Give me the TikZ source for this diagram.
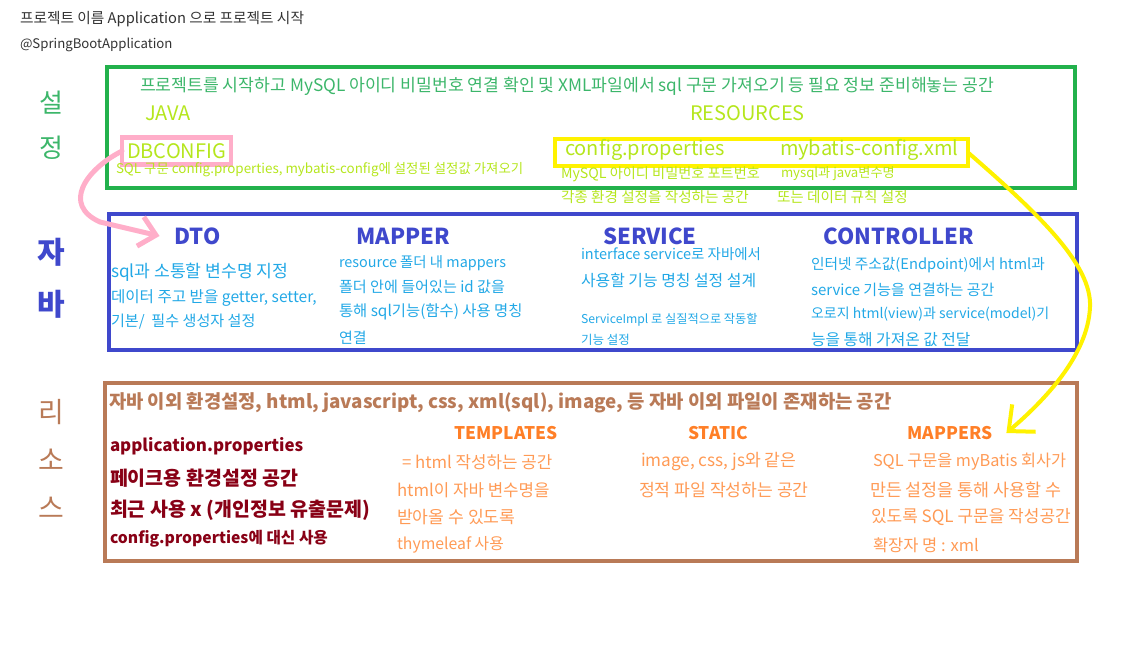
\documentclass[tikz,border=0pt]{standalone}
\usepackage{fontspec}
\setmainfont{Noto Sans CJK KR}
\usetikzlibrary{arrows.meta,positioning}
\definecolor{setgreen}{HTML}{22B14C}
\definecolor{settext}{HTML}{3CB66A}
\definecolor{lime}{HTML}{B5E61D}
\definecolor{dbpink}{HTML}{FFAEC9}
\definecolor{cfgyellow}{HTML}{FFF200}
\definecolor{javablue}{HTML}{3F48CC}
\definecolor{skyblue}{HTML}{22A8E6}
\definecolor{resbrown}{HTML}{B97A57}
\definecolor{darkred}{HTML}{880015}
\definecolor{resorange}{HTML}{FF7F27}
\definecolor{softorange}{HTML}{FF9A55}
\newcommand\pxfont[1]{\fontsize{#1}{#1}\selectfont}

\begin{document}
\begin{tikzpicture}[x=1pt,y=-1pt,
 every node/.style={inner sep=0pt,outer sep=0pt},
 txt/.style={anchor=west},
 frame/.style={draw,line width=4pt,anchor=north west},
 side/.style={anchor=center},
 head/.style={anchor=center,font=\bfseries\pxfont{22},text=javablue},
 reshead/.style={anchor=center,font=\bfseries\pxfont{17.4},text=resorange}]
\useasboundingbox (0,0) rectangle (1144,648);
% title lines
\node[txt,font=\pxfont{14.7},text=black!80] (title) at (20,19) {프로젝트 이름 Application 으로 프로젝트 시작};
\node[txt,font=\pxfont{13.2},text=black!80] (anno) at (20,45) {@SpringBootApplication};

% frames
\node[frame,draw=setgreen,minimum width=968pt,minimum height=121pt] (setframe) at (107,67) {};
\node[frame,draw=javablue,minimum width=967.5pt,minimum height=136.5pt] (javaframe) at (109,213.5) {};
\node[frame,draw=resbrown,minimum width=972pt,minimum height=178.5pt] (resframe) at (105,382.5) {};

% side labels
\node[side,font=\pxfont{26},text=settext] (s1) at (51,103) {설};
\node[side,font=\pxfont{26},text=settext] (s2) at (51,148) {정};
\node[side,font=\bfseries\pxfont{30},text=javablue] (j1) at (51,252) {자};
\node[side,font=\bfseries\pxfont{30},text=javablue] (j2) at (51,304) {바};
\node[side,font=\pxfont{28},text=resbrown] (r1) at (51,412) {리};
\node[side,font=\pxfont{28},text=resbrown] (r2) at (51,460) {소};
\node[side,font=\pxfont{28},text=resbrown] (r3) at (51,508) {스};

% setting frame
\node[txt,font=\pxfont{17.2},text=settext] (setdesc) at (140,86) {프로젝트를 시작하고 MySQL 아이디 비밀번호 연결 확인 및 XML파일에서 sql 구문 가져오기 등 필요 정보 준비해놓는 공간};
\node[txt,font=\pxfont{20},text=lime] (java) at (145,113) {JAVA};
\node[txt,font=\pxfont{20},text=lime] (resources) at (690,113) {RESOURCES};
\node[draw=dbpink,line width=4.5pt,minimum width=109pt,minimum height=27pt,font=\pxfont{20},text=lime] (dbconfig) at (176.5,151) {DBCONFIG};
\node[txt,font=\pxfont{13.4},text=lime] (dbdesc) at (116,170) {SQL 구문 config.properties, mybatis-config에 설정된 설정값 가져오기};
\node[draw=cfgyellow,line width=4pt,minimum width=413pt,minimum height=27pt] (cfgbox) at (761.5,152.5) {};
\node[txt,font=\pxfont{20},text=lime] (props) at (565,150) {config.properties};
\node[txt,font=\pxfont{20},text=lime] (mybatis) at (780,150) {mybatis-config.xml};
\node[txt,font=\pxfont{14.2},text=lime] (props1) at (561,174) {MySQL 아이디 비밀번호 포트번호};
\node[txt,font=\pxfont{14.6},text=lime] (props2) at (561,197) {각종 환경 설정을 작성하는 공간};
\node[txt,font=\pxfont{13.2},text=lime] (mybatis1) at (781,174) {mysql과 java변수명};
\node[txt,font=\pxfont{14.6},text=lime] (mybatis2) at (777,197) {또는 데이터 규칙 설정};

% java frame
\node[head] (dto) at (197.5,236) {DTO};
\node[head] (mapper) at (403,236) {MAPPER};
\node[head] (service) at (650,236) {SERVICE};
\node[head] (controller) at (899,236) {CONTROLLER};
\node[txt,font=\pxfont{17.2},text=skyblue] (dto1) at (111,272) {sql과 소통할 변수명 지정};
\node[txt,font=\pxfont{15.6},text=skyblue] (dto2) at (111,298) {데이터 주고 받을 getter, setter,};
\node[txt,font=\pxfont{15.1},text=skyblue] (dto3) at (111,322) {기본/~ 필수 생성자 설정};
\node[txt,font=\pxfont{14.4},text=skyblue] (map1) at (339,263) {resource 폴더 내 mappers};
\node[txt,font=\pxfont{15.1},text=skyblue] (map2) at (339,287) {폴더 안에 들어있는 id 값을};
\node[txt,font=\pxfont{15.4},text=skyblue] (map3) at (339,312) {통해 sql기능(함수) 사용 명칭};
\node[txt,font=\pxfont{15},text=skyblue] (map4) at (339,338) {연결};
\node[txt,font=\pxfont{14.5},text=skyblue] (svc1) at (581,254) {interface service로 자바에서};
\node[txt,font=\pxfont{15.9},text=skyblue] (svc2) at (581,280) {사용할 기능 명칭 설정 설계};
\node[txt,font=\pxfont{12.2},text=skyblue] (svc3) at (581,320) {ServiceImpl 로 실질적으로 작동할};
\node[txt,font=\pxfont{12.5},text=skyblue] (svc4) at (581,340) {기능 설정};
\node[txt,font=\pxfont{14.7},text=skyblue] (ctl1) at (811,265) {인터넷 주소값(Endpoint)에서 html과};
\node[txt,font=\pxfont{15},text=skyblue] (ctl2) at (811,290) {service 기능을 연결하는 공간};
\node[txt,font=\pxfont{14},text=skyblue] (ctl3) at (811,314) {오로지 html(view)과 service(model)기};
\node[txt,font=\pxfont{15.8},text=skyblue] (ctl4) at (811,340) {능을 통해 가져온 값 전달};

% resource frame
\node[txt,font=\bfseries\pxfont{18.8},text=resbrown] (resdesc) at (109,403) {자바 이외 환경설정, html, javascript, css, xml(sql), image, 등 자바 이외 파일이 존재하는 공간};
\node[txt,font=\bfseries\pxfont{16.9},text=darkred] (app1) at (110,446) {application.properties};
\node[txt,font=\bfseries\pxfont{19.5},text=darkred] (app2) at (110,478) {페이크용 환경설정 공간};
\node[txt,font=\bfseries\pxfont{19.5},text=darkred] (app3) at (110,510) {최근 사용 x (개인정보 유출문제)};
\node[txt,font=\bfseries\pxfont{15.7},text=darkred] (app4) at (110,539) {config.properties에 대신 사용};
\node[reshead] (templates) at (506,433) {TEMPLATES};
\node[reshead] (static) at (718,433) {STATIC};
\node[reshead] (mapres) at (950,433) {MAPPERS};
\node[txt,font=\pxfont{16.8},text=softorange] (tpl1) at (402,462) {= html 작성하는 공간};
\node[txt,font=\pxfont{16.8},text=softorange] (tpl2) at (397,490) {html이 자바 변수명을};
\node[txt,font=\pxfont{17.2},text=softorange] (tpl3) at (397,517) {받아올 수 있도록};
\node[txt,font=\pxfont{15.8},text=softorange] (tpl4) at (397,545) {thymeleaf 사용};
\node[txt,font=\pxfont{17.2},text=softorange] (st1) at (641,462) {image, css, js와 같은};
\node[txt,font=\pxfont{17.2},text=softorange] (st2) at (639,490) {정적 파일 작성하는 공간};
\node[txt,font=\pxfont{16.3},text=softorange] (mp1) at (873,462) {SQL 구문을 myBatis 회사가};
\node[txt,font=\pxfont{17.4},text=softorange] (mp2) at (870,490) {만든 설정을 통해 사용할 수};
\node[txt,font=\pxfont{17},text=softorange] (mp3) at (871,517) {있도록 SQL 구문을 작성공간};
\node[txt,font=\pxfont{16.5},text=softorange] (mp4) at (873,545) {확장자 명 : xml};

% hand drawn arrows
\draw[dbpink,line width=5pt,line cap=round,-{Straight Barb[length=16pt,width=30pt]}]
 (dbconfig.west) .. controls (85,170) and (62,205) .. (100,222) -- ([xshift=-15pt]dto.west);
\draw[cfgyellow,line width=4pt,line cap=round,-{Straight Barb[length=20pt,width=36pt]}]
 (cfgbox.east) .. controls (1040,215) and (1092,265) .. (1090,307)
 .. controls (1088,355) and (1045,400) .. ([xshift=14pt]mapres.east);
\end{tikzpicture}
\end{document}
